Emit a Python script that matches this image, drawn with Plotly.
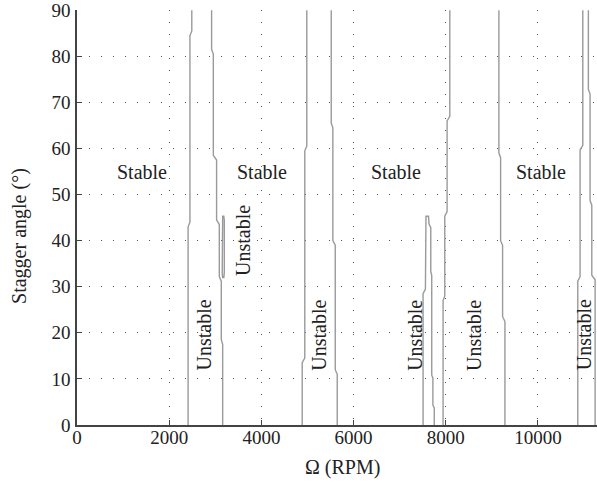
import plotly.graph_objects as go

# Stability boundaries: rotor speed (RPM) vs stagger angle (deg)
a_rpm = [2410, 2410, 2450, 2450, 2490, 2490]
a_deg = [0, 43, 44, 84.5, 85.5, 90]

b_rpm = [3160, 3160, 3130, 3130, 3087, 3087, 3028, 3028, 2957, 2957, 2920, 2920]
b_deg = [0, 17.5, 18.5, 31.2, 32.2, 43.5, 44.5, 57.5, 58.5, 80.5, 81.5, 90]

loop_rpm = [3150, 3150, 3160, 3185, 3195, 3195, 3185, 3160, 3150]
loop_deg = [33, 44.5, 45.3, 45.3, 44.5, 33, 32, 32, 33]

c_rpm = [4885, 4885, 4941, 4941, 4985, 4985]
c_deg = [0, 13.5, 14.5, 59.5, 60.5, 90]

d_rpm = [5645, 5645, 5602, 5602, 5550, 5550, 5515, 5515]
d_deg = [0, 11, 12, 39, 40, 64.5, 65.5, 90]

u_rpm = [7507, 7507, 7558, 7558, 7570, 7625, 7637, 7637, 7674, 7674, 7695, 7695, 7720, 7720, 7750, 7750]
u_deg = [0, 28.5, 29.5, 44.3, 45.3, 45.3, 44.5, 43.6, 42.8, 33.3, 32.5, 10.8, 10.2, 4.3, 3.7, 0]

e_rpm = [7941, 7941, 7978, 7978, 8028, 8028, 8087, 8087]
e_deg = [0, 27, 28, 45.3, 46.3, 66, 67, 90]

g_rpm = [9283, 9283, 9232, 9232, 9189, 9189, 9152, 9152]
g_deg = [0, 22.5, 23.5, 39, 40, 58, 59, 90]

h_rpm = [10863, 10863, 10913, 10913, 10972, 10972]
h_deg = [0, 31.2, 32.2, 59.7, 60.7, 90]

i_rpm = [11239, 11239, 11167, 11167, 11130, 11130, 11093, 11093]
i_deg = [0, 31.5, 32.5, 47.7, 48.7, 71.8, 72.8, 90]

stable_rpm = [1413, 4022, 6913, 10065]
stable_deg = [55, 55, 55, 55]
unstable_rpm = [2761, 3587, 5261, 7326, 8609, 11000]
unstable_deg = [19.5, 40, 19.5, 19.5, 19.5, 19.5]

x_ticks = [0, 2000, 4000, 6000, 8000, 10000]
y_ticks = [0, 10, 20, 30, 40, 50, 60, 70, 80, 90]

FONT = "Liberation Serif"
LINE = dict(color="#9a9a9a", width=1.4)

fig = go.Figure()
for xs, ys in [(a_rpm, a_deg), (b_rpm, b_deg), (loop_rpm, loop_deg), (c_rpm, c_deg),
               (d_rpm, d_deg), (u_rpm, u_deg), (e_rpm, e_deg), (g_rpm, g_deg),
               (h_rpm, h_deg), (i_rpm, i_deg)]:
    fig.add_trace(go.Scatter(x=xs, y=ys, mode="lines", line=LINE,
                             showlegend=False, hoverinfo="skip"))

for xv, yv in zip(stable_rpm, stable_deg):
    fig.add_annotation(x=xv, y=yv, text="Stable", showarrow=False,
                       font=dict(family=FONT, size=20, color="#222"))
for xv, yv in zip(unstable_rpm, unstable_deg):
    fig.add_annotation(x=xv, y=yv, text="Unstable", showarrow=False, textangle=-90,
                       font=dict(family=FONT, size=20, color="#222"))

fig.add_annotation(xref="paper", yref="paper", x=0.5115, y=-0.103, text="Ω (RPM)",
                   xanchor="center", yanchor="middle",
                   showarrow=False, font=dict(family=FONT, size=20, color="#222"))
fig.add_annotation(xref="paper", yref="paper", x=-0.1096, y=0.4556, text="Stagger angle (°)",
                   xanchor="center", yanchor="middle",
                   showarrow=False, textangle=-90, font=dict(family=FONT, size=20, color="#222"))

grid = dict(showgrid=True, gridcolor="#555", gridwidth=1, griddash="1px,11px")
fig.update_xaxes(range=[0, 11280], tickvals=x_ticks, ticktext=[str(v) for v in x_ticks],
                 ticks="inside", ticklen=5, tickcolor="#444", showline=True,
                 linecolor="#444", linewidth=1.5, zeroline=False,
                 ticklabelstandoff=-6, ticklabeloverflow="allow",
                 tickfont=dict(family=FONT, size=19, color="#222"), **grid)
fig.update_yaxes(range=[0, 90.05], tickvals=y_ticks, ticktext=[str(v) for v in y_ticks],
                 ticks="inside", ticklen=5, tickcolor="#444", showline=True,
                 linecolor="#444", linewidth=1.5, zeroline=False,
                 ticklabelstandoff=1, ticklabeloverflow="allow",
                 tickfont=dict(family=FONT, size=19, color="#222"), **grid)

fig.update_layout(width=597, height=488, margin=dict(l=77, r=0, t=8, b=63),
                  plot_bgcolor="white", paper_bgcolor="white")
fig.write_html("out.html", config={"displayModeBar": False},
               post_script="document.body.style.margin='0';")
